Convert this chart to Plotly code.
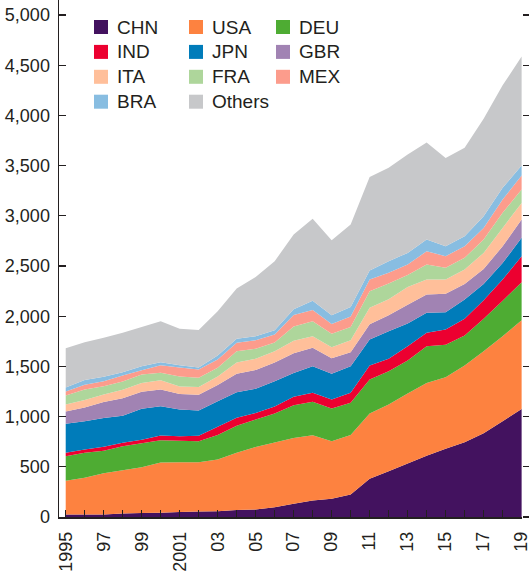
import plotly.graph_objects as go

years = list(range(1995, 2020))

chn = [25, 25, 25, 35, 40, 42, 50, 55, 58, 70, 75, 98, 131, 164, 181, 224, 380, 456, 533, 610, 679, 745, 835, 954, 1075]
usa = [337, 365, 411, 431, 456, 501, 495, 491, 515, 569, 622, 644, 656, 651, 574, 594, 651, 664, 697, 726, 714, 764, 817, 847, 885]
deu = [244, 250, 224, 239, 239, 222, 215, 209, 245, 271, 273, 288, 327, 332, 326, 319, 339, 332, 329, 365, 322, 299, 323, 354, 379]
ind = [34, 32, 40, 35, 35, 47, 45, 55, 82, 78, 66, 70, 84, 90, 89, 100, 139, 124, 142, 134, 153, 166, 185, 211, 258]
jpn = [290, 282, 285, 268, 308, 292, 265, 251, 254, 255, 241, 253, 237, 265, 256, 265, 259, 275, 226, 199, 172, 192, 160, 164, 184]
gbr = [120, 136, 160, 175, 170, 166, 155, 157, 161, 184, 188, 187, 195, 183, 156, 140, 152, 159, 188, 182, 183, 154, 150, 167, 182]
ita = [70, 75, 75, 85, 88, 92, 75, 77, 85, 113, 112, 110, 126, 116, 109, 118, 165, 160, 175, 149, 142, 145, 161, 183, 166]
fra = [90, 105, 83, 82, 83, 74, 100, 91, 86, 112, 98, 88, 141, 149, 134, 132, 164, 156, 120, 150, 117, 117, 133, 150, 133]
mex = [40, 48, 50, 60, 43, 76, 90, 83, 83, 83, 86, 80, 115, 113, 97, 105, 116, 106, 105, 132, 116, 115, 116, 132, 139]
bra = [40, 47, 43, 33, 40, 30, 22, 21, 40, 40, 40, 43, 58, 92, 88, 95, 90, 116, 116, 117, 99, 100, 116, 117, 100]
others = [390, 375, 389, 392, 390, 408, 362, 372, 441, 500, 589, 687, 744, 815, 747, 821, 933, 930, 980, 966, 878, 880, 972, 1021, 1086]

names = ["CHN", "USA", "DEU", "IND", "JPN", "GBR", "ITA", "FRA", "MEX", "BRA", "Others"]
series = [chn, usa, deu, ind, jpn, gbr, ita, fra, mex, bra, others]
colors = ["#43125F", "#FD8240", "#4EAC33", "#EC0030", "#007CBA", "#A183B3",
          "#FFBF9A", "#AED69B", "#FC9C8C", "#88BDE1", "#C7C8CA"]

x_tick_vals = list(range(1995, 2020, 2))
x_tick_text = ["1995", "97", "99", "2001", "03", "05", "07", "09", "11", "13", "15", "17", "19"]
y_tick_vals = [0, 500, 1000, 1500, 2000, 2500, 3000, 3500, 4000, 4500, 5000]

INK = "#231F20"
FONT = "Liberation Sans, Arial, Helvetica, sans-serif"

W, H = 529, 574
ML, MR, MT, MB = 59, 7, 0, 57
PW, PH = W - ML - MR, H - MT - MB

fig = go.Figure()
for name, vals, col in zip(names, series, colors):
    fig.add_trace(go.Scatter(
        x=years, y=vals, name=name, stackgroup="one", mode="none",
        fillcolor=col, line=dict(width=0), showlegend=False,
    ))

# right-side ticks (mirror) on an overlaying axis
fig.add_trace(go.Scatter(x=[None], y=[None], yaxis="y2", showlegend=False, hoverinfo="skip"))

# legend: 3 columns x 4 rows (row-major order)
col_left = [94, 189, 276]
row_center0, row_step = 27, 24.9
sq = 14
for i, (name, col) in enumerate(zip(names, colors)):
    r, c = divmod(i, 3)
    px0 = col_left[c]
    pyc = row_center0 + r * row_step
    fig.add_shape(type="rect", xref="paper", yref="paper",
                  x0=(px0 - ML) / PW, x1=(px0 + sq - ML) / PW,
                  y0=(H - MB - (pyc + sq / 2)) / PH, y1=(H - MB - (pyc - sq / 2)) / PH,
                  fillcolor=col, line=dict(width=0))
    fig.add_annotation(text=name, xref="paper", yref="paper",
                       x=(px0 + 21 - ML) / PW, y=(H - MB - pyc) / PH,
                       xanchor="left", yanchor="middle", showarrow=False,
                       font=dict(family=FONT, size=19, color=INK))

fig.update_layout(
    width=W, height=H, autosize=False,
    margin=dict(l=ML, r=MR, t=MT, b=MB, autoexpand=False),
    paper_bgcolor="white", plot_bgcolor="white",
    showlegend=False,
    xaxis=dict(
        range=[1994.647, 2019.02], showgrid=False, zeroline=False, automargin=False,
        showline=True, linecolor=INK, linewidth=1.5,
        tickmode="array", tickvals=x_tick_vals, ticktext=x_tick_text,
        ticks="inside", ticklen=7, tickwidth=1.3, tickcolor=INK,
        tickangle=-90, ticklabelstandoff=6, ticklabeloverflow="allow",
        tickfont=dict(family=FONT, size=18, color=INK),
        minor=dict(tickmode="linear", tick0=1995, dtick=1, ticks="inside",
                   ticklen=7, tickwidth=1.3, tickcolor=INK, showgrid=False),
    ),
    yaxis=dict(
        range=[0, 5150], showgrid=False, zeroline=False, automargin=False,
        showline=True, linecolor=INK, linewidth=1.5,
        tickmode="array", tickvals=y_tick_vals, tickformat=",d",
        ticks="inside", ticklen=7, tickwidth=1.3, tickcolor=INK,
        ticklabelstandoff=4,
        tickfont=dict(family=FONT, size=18, color=INK),
    ),
    yaxis2=dict(
        overlaying="y", side="right", anchor="x", range=[0, 5150], automargin=False,
        showgrid=False, zeroline=False, showline=False,
        tickmode="array", tickvals=y_tick_vals, showticklabels=False,
        ticks="outside", ticklen=7, tickwidth=1.3, tickcolor=INK,
    ),
)

fig.write_html(
    "out.html",
    config={"displayModeBar": False, "staticPlot": True},
    post_script="document.body.style.margin='0';document.body.style.overflow='hidden';",
)
